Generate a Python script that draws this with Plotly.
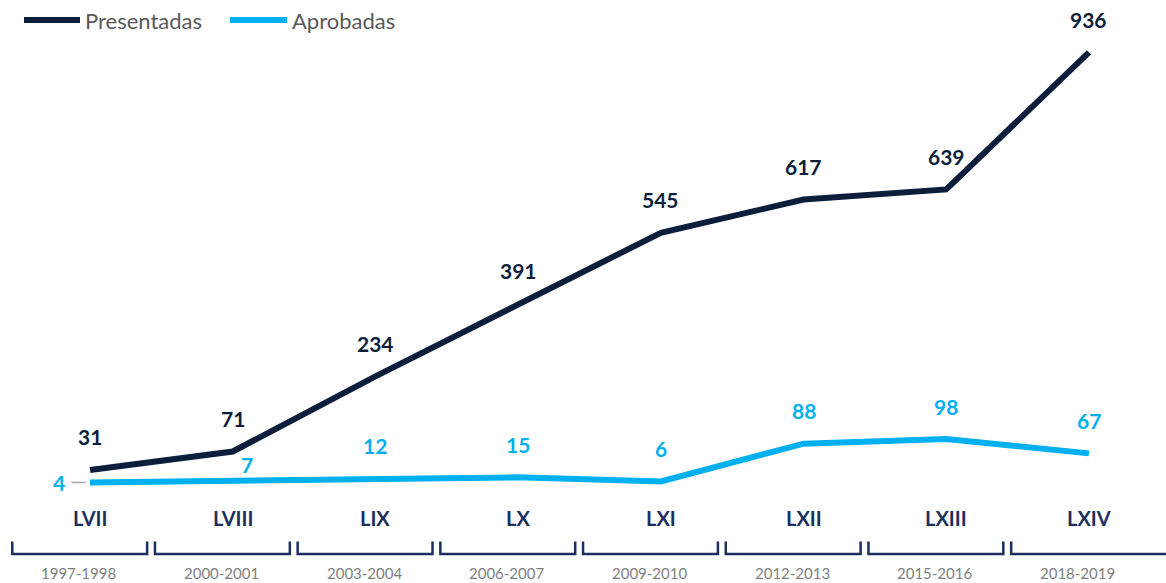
import plotly.graph_objects as go

legislaturas = ["LVII", "LVIII", "LIX", "LX", "LXI", "LXII", "LXIII", "LXIV"]
periodos = ["1997-1998", "2000-2001", "2003-2004", "2006-2007", "2009-2010",
            "2012-2013", "2015-2016", "2018-2019"]
presentadas = [31, 71, 234, 391, 545, 617, 639, 936]
aprobadas = [4, 7, 12, 15, 6, 88, 98, 67]

NAVY = "#0C1E3C"
BLUE = "#00B0F0"
AXIS_NAVY = "#1C2F5E"
GRAY = "#7F7F7F"
LEGEND_GRAY = "#595959"
FONT = "Lato"
W, H = 1166, 583

x = list(range(len(legislaturas)))

fig = go.Figure()
fig.add_trace(go.Scatter(x=x, y=presentadas, mode="lines", name="Presentadas",
                         line=dict(color=NAVY, width=6), showlegend=False,
                         hoverinfo="skip"))
fig.add_trace(go.Scatter(x=x, y=aprobadas, mode="lines", name="Aprobadas",
                         line=dict(color=BLUE, width=6), showlegend=False,
                         hoverinfo="skip"))

annotations = []
shapes = []

for i, v in enumerate(presentadas):
    annotations.append(dict(x=i, y=v, xref="x", yref="y", text=f"<b>{v}</b>",
                            showarrow=False, yshift=33,
                            font=dict(family=FONT, size=21, color=NAVY)))
for i, v in enumerate(aprobadas):
    xs, ys = 0, 33
    if i == 0:
        xs, ys = -31, 0
    elif i == 1:
        xs, ys = 14, 17
    annotations.append(dict(x=i, y=v, xref="x", yref="y", text=f"<b>{v}</b>",
                            showarrow=False, xshift=xs, yshift=ys,
                            font=dict(family=FONT, size=21, color=BLUE)))

# leader line for the first approved label
shapes.append(dict(type="line", xref="x", yref="y",
                   x0=-0.13, x1=-0.03, y0=aprobadas[0], y1=aprobadas[0],
                   line=dict(color="#A6A6A6", width=1.5)))

# category axis (two levels with brackets)
for i, (leg, per) in enumerate(zip(legislaturas, periodos)):
    annotations.append(dict(x=i, y=-73, xref="x", yref="y", text=f"<b>{leg}</b>",
                            showarrow=False,
                            font=dict(family=FONT, size=20, color=AXIS_NAVY)))
    annotations.append(dict(x=i - 0.08, y=-192, xref="x", yref="y", text=per,
                            showarrow=False,
                            font=dict(family=FONT, size=15, color=GRAY)))
    x0 = i - 0.545
    x1 = i + 0.40
    if i == len(legislaturas) - 1:
        x1 = 8.0
    shapes.append(dict(type="path", xref="x", yref="y",
                       path=f"M {x0},-124 L {x0},-151 L {x1},-151 L {x1},-124",
                       line=dict(color=AXIS_NAVY, width=2.5)))

# manual legend
legend_items = [("Presentadas", NAVY, 24, 80), ("Aprobadas", BLUE, 230, 287)]
ly = 1 - 20 / H
for name, color, px0, px1 in legend_items:
    shapes.append(dict(type="line", xref="paper", yref="paper",
                       x0=px0 / W, x1=px1 / W, y0=ly, y1=ly,
                       line=dict(color=color, width=6)))
    annotations.append(dict(x=(px1 + 3) / W, y=ly, xref="paper", yref="paper",
                            text=name, showarrow=False, xanchor="left", yanchor="middle",
                            font=dict(family=FONT, size=22, color=LEGEND_GRAY)))

fig.update_layout(
    width=W, height=H,
    margin=dict(l=0, r=0, t=0, b=0),
    paper_bgcolor="white", plot_bgcolor="white",
    font=dict(family=FONT, color=LEGEND_GRAY),
    xaxis=dict(range=[-0.631, 7.54], visible=False, fixedrange=True),
    yaxis=dict(range=[-213.9, 1049.4], visible=False, fixedrange=True),
    annotations=annotations,
    shapes=shapes,
    showlegend=False,
    hovermode=False,
)

fig.write_html("out.html", config={"displayModeBar": False},
               post_script="document.body.style.margin='0';")
